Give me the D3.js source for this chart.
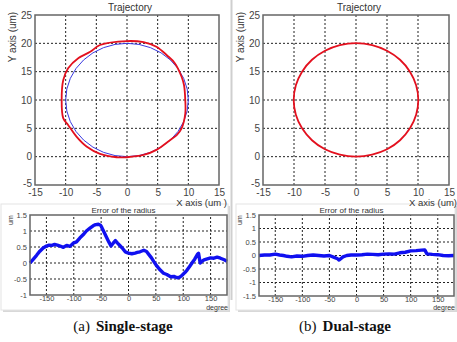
<!DOCTYPE html>
<html>
<head>
<meta charset="utf-8">
<script src="https://cdn.jsdelivr.net/npm/d3@7"></script>
<style>
  body { margin: 0; background: #fff; }
  svg { display: block; font-family: "Liberation Sans", Arial, sans-serif; }
  .tick text { fill: #444; }
</style>
</head>
<body>
<div id="chart"></div>
<script>
// trajectory ticks
const trajXTicks = [-15, -10, -5, 0, 5, 10, 15];
const trajYTicks = [-5, 0, 5, 10, 15, 20, 25];
// error ticks
const errXTicks = [-150, -100, -50, 0, 50, 100, 150];
const singleErrYTicks = [-1, -0.5, 0, 0.5, 1, 1.5];
const dualErrYTicks = [-1.5, -1, -0.5, 0, 0.5, 1, 1.5];

// commanded circle (blue)
const refCenter = [0, 10];
const refRadius = 10;

const singleX = [0, 2.7, 4.8, 6.5, 7.8, 8.9, 9.3, 9.5, 9.5, 8.9, 8.1, 7.0, 4.8, 2.7, 0, -1.7, -4.4, -6.6, -8.2, -9.6, -10.4, -10.65, -10.4, -9.6, -7.9, -6.0, -4.4];
const singleY = [20.4, 20.2, 19.4, 17.9, 16.5, 14.1, 12.6, 10, 7.6, 5.0, 3.8, 2.9, 1.2, 0.3, -0.1, -0.1, 0.5, 1.8, 3.5, 5.6, 6.8, 10, 13.5, 15.6, 17.4, 18.5, 19.7];

// dual-stage measured trajectory (red)
const dualX = [0, 2.6, 5.0, 7.1, 8.7, 9.7, 10.05, 9.7, 8.7, 7.1, 5.0, 2.6, 0, -2.6, -5.0, -7.1, -8.7, -9.7, -10.05, -9.7, -8.7, -7.1, -5.0, -2.6];
const dualY = [20.05, 19.7, 18.7, 17.1, 15.0, 12.6, 10, 7.4, 5.0, 2.9, 1.3, 0.35, 0, 0.35, 1.3, 2.9, 5.0, 7.4, 10, 12.6, 15.0, 17.1, 18.7, 19.7];

// error of the radius (single-stage)
const singleErrDeg = [-180, -175, -168, -162, -156, -150, -145, -140, -135, -130, -125, -119, -113, -107, -101, -95, -89, -83, -77, -71, -64, -60, -55, -51, -49, -45, -40, -36, -32, -28, -24, -20, -15, -10, -6, 0, 6, 12, 16, 21, 28, 33, 37, 42, 46, 52, 58, 64, 70, 77, 83, 89, 94, 98, 103, 107, 112, 116, 121, 126, 128, 131, 134, 138, 144, 150, 156, 162, 168, 175, 180];
const singleErrVal = [0.0, 0.1, 0.24, 0.37, 0.47, 0.53, 0.56, 0.55, 0.58, 0.56, 0.53, 0.49, 0.55, 0.52, 0.62, 0.66, 0.78, 0.88, 1.0, 1.08, 1.17, 1.2, 1.21, 1.18, 1.12, 0.98, 0.8, 0.66, 0.53, 0.62, 0.7, 0.62, 0.53, 0.44, 0.35, 0.31, 0.29, 0.31, 0.33, 0.35, 0.4, 0.36, 0.27, 0.16, 0.05, -0.1, -0.22, -0.32, -0.36, -0.43, -0.42, -0.46, -0.44, -0.38, -0.3, -0.22, -0.1, 0.0, 0.12, 0.27, 0.3, 0.0, 0.05, 0.1, 0.13, 0.16, 0.15, 0.18, 0.15, 0.1, 0.05];

// error of the radius (dual-stage)
const dualErrDeg = [-180, -170, -160, -150, -142, -135, -128, -120, -110, -100, -90, -80, -70, -60, -50, -40, -35, -32, -28, -25, -18, -10, 0, 10, 20, 30, 40, 50, 60, 70, 80, 90, 100, 110, 120, 126, 130, 140, 150, 160, 170, 180];
const dualErrVal = [0.0, 0.02, 0.02, 0.05, 0.02, 0.0, -0.03, -0.05, -0.02, -0.03, 0.0, 0.02, 0.0, -0.02, 0.0, -0.08, -0.12, -0.17, -0.1, -0.05, 0.0, 0.02, 0.02, 0.03, 0.05, 0.04, 0.03, 0.05, 0.06, 0.05, 0.1, 0.12, 0.17, 0.18, 0.2, 0.21, 0.06, 0.04, 0.03, 0.0, -0.01, 0.0];

const W = 457, H = 342;
const svg = d3.select("#chart").append("svg").attr("width", W).attr("height", H);

// separator of the two screenshots and shadowed boxes
svg.append("line").attr("x1", 231.5).attr("x2", 231.5).attr("y1", 0).attr("y2", 300)
  .attr("stroke", "#cfcfcf").attr("stroke-width", 2);
const drawBox = (x0, x1) => {
  svg.append("rect").attr("x", x0 + 2).attr("y", 206).attr("width", x1 - x0).attr("height", 106)
    .attr("fill", "#d8d8d8");
  svg.append("rect").attr("x", x0).attr("y", 204).attr("width", x1 - x0).attr("height", 106)
    .attr("fill", "#fff").attr("stroke", "#e4e4e4");
};
drawBox(1, 228);
drawBox(236, 455);

const fmt = d => String(d);

// grid and tick labels for one panel
const drawPanel = (xs, ys, xGrid, yGrid, xTicks, yTicks, fontSize, pad) => {
  let g = svg.append("g");
  g.selectAll(".gx").data(xGrid).enter().append("line")
    .attr("x1", d => xs(d)).attr("x2", d => xs(d))
    .attr("y1", ys.range()[0]).attr("y2", ys.range()[1])
    .attr("stroke", "#222").attr("stroke-width", 1).attr("stroke-dasharray", "2,2");
  g.selectAll(".gy").data(yGrid).enter().append("line")
    .attr("y1", d => ys(d)).attr("y2", d => ys(d))
    .attr("x1", xs.range()[0]).attr("x2", xs.range()[1])
    .attr("stroke", "#222").attr("stroke-width", 1).attr("stroke-dasharray", "2,2");

  let ax = g.append("g").attr("transform", "translate(0," + ys.range()[0] + ")")
    .call(d3.axisBottom(xs).tickValues(xTicks).tickSize(0).tickPadding(pad).tickFormat(fmt));
  let ay = g.append("g").attr("transform", "translate(" + xs.range()[0] + ",0)")
    .call(d3.axisLeft(ys).tickValues(yTicks).tickSize(0).tickPadding(3).tickFormat(fmt));
  for (let a of [ax, ay]) {
    a.select(".domain").remove();
    a.selectAll("text").attr("font-size", fontSize).attr("font-family", "Liberation Sans, Arial, sans-serif");
  }
  return g;
};

const drawFrame = (xs, ys) => {
  svg.append("rect")
    .attr("x", xs.range()[0]).attr("y", ys.range()[1])
    .attr("width", xs.range()[1] - xs.range()[0])
    .attr("height", ys.range()[0] - ys.range()[1])
    .attr("fill", "none").attr("stroke", "#666").attr("stroke-width", 1.5);
};

const txt = (x, y, s, size, opts = {}) => {
  let t = svg.append("text").attr("x", x).attr("y", y).text(s)
    .attr("font-size", size).attr("fill", opts.fill || "#333")
    .attr("text-anchor", opts.anchor || "middle");
  if (opts.rotate) t.attr("transform", "rotate(-90," + x + "," + y + ")");
  if (opts.family) t.attr("font-family", opts.family);
  return t;
};

// trajectory panel
const drawTrajectory = (left, right, trajX, trajY, showRef, xLabel) => {
  let xs = d3.scaleLinear().domain([-15, 15]).range([left, right]);
  let ys = d3.scaleLinear().domain([-5, 25]).range([185, 15]);
  drawPanel(xs, ys, trajXTicks.slice(1, -1), trajYTicks.slice(1, -1), trajXTicks, trajYTicks, 10, 4);
  // "-5" sits a little higher than the x labels
  svg.selectAll(".tick text").filter(function() { return this.textContent === "-5" && this.getAttribute("x") !== null && +this.getAttribute("x") < 0; })
    .attr("dy", "0.1em");

  if (showRef) {
    svg.append("ellipse")
      .attr("cx", xs(refCenter[0])).attr("cy", ys(refCenter[1]))
      .attr("rx", xs(refRadius) - xs(0)).attr("ry", ys(0) - ys(refRadius))
      .attr("fill", "none").attr("stroke", "#3a3ae0").attr("stroke-width", 1);
  }
  let pts = trajX.map((x, i) => [x, trajY[i]]);
  let line = d3.line().x(d => xs(d[0])).y(d => ys(d[1])).curve(d3.curveCatmullRomClosed);
  svg.append("path").attr("d", line(pts))
    .attr("fill", "none").attr("stroke", "#e3101e").attr("stroke-width", 1.8);
  drawFrame(xs, ys);

  txt((left + right) / 2 + 3, 11, "Trajectory", 10);
  txt(left - 19, 37, "Y axis  (um)", 10, { rotate: true });
  txt(right + 8, 206, xLabel, 9.5, { anchor: "end" });
};

// error panel
const drawError = (left, right, top, bottom, yDomain, yTicks, deg, val) => {
  let xs = d3.scaleLinear().domain([-180, 180]).range([left, right]);
  let ys = d3.scaleLinear().domain(yDomain).range([bottom, top]);
  drawPanel(xs, ys, errXTicks, yTicks.slice(1, -1), errXTicks, yTicks, 7.5, 1);

  let line = d3.line().x((d, i) => xs(deg[i])).y(d => ys(d));
  svg.append("path").attr("d", line(val))
    .attr("fill", "none").attr("stroke", "#1010f0").attr("stroke-width", 3.4).attr("stroke-linejoin", "round");
  drawFrame(xs, ys);

  txt((left + right) / 2 - 5, 213, "Error of the radius", 8);
  txt(left - 17, top + 5, "um", 7, { rotate: true });
  txt(right + 1, 310, "degree", 7, { anchor: "end" });
};

drawTrajectory(35, 219, singleX, singleY, true, "X axis (um )");
drawTrajectory(263, 449, dualX, dualY, false, "X axis (um)");
drawError(30, 227, 215, 295, [-1, 1.5], singleErrYTicks, singleErrDeg, singleErrVal);
drawError(259, 454, 215, 296, [-1.5, 1.5], dualErrYTicks, dualErrDeg, dualErrVal);

// captions
const caption = (x, tag, name) => {
  let t = txt(x, 331, "", 15, { family: "Liberation Serif, Times New Roman, serif", fill: "#111" });
  t.append("tspan").text(tag);
  t.append("tspan").attr("dx", 6).attr("font-weight", "bold").text(name);
};
caption(123, "(a)", "Single-stage");
caption(345, "(b)", "Dual-stage");
</script>
</body>
</html>
